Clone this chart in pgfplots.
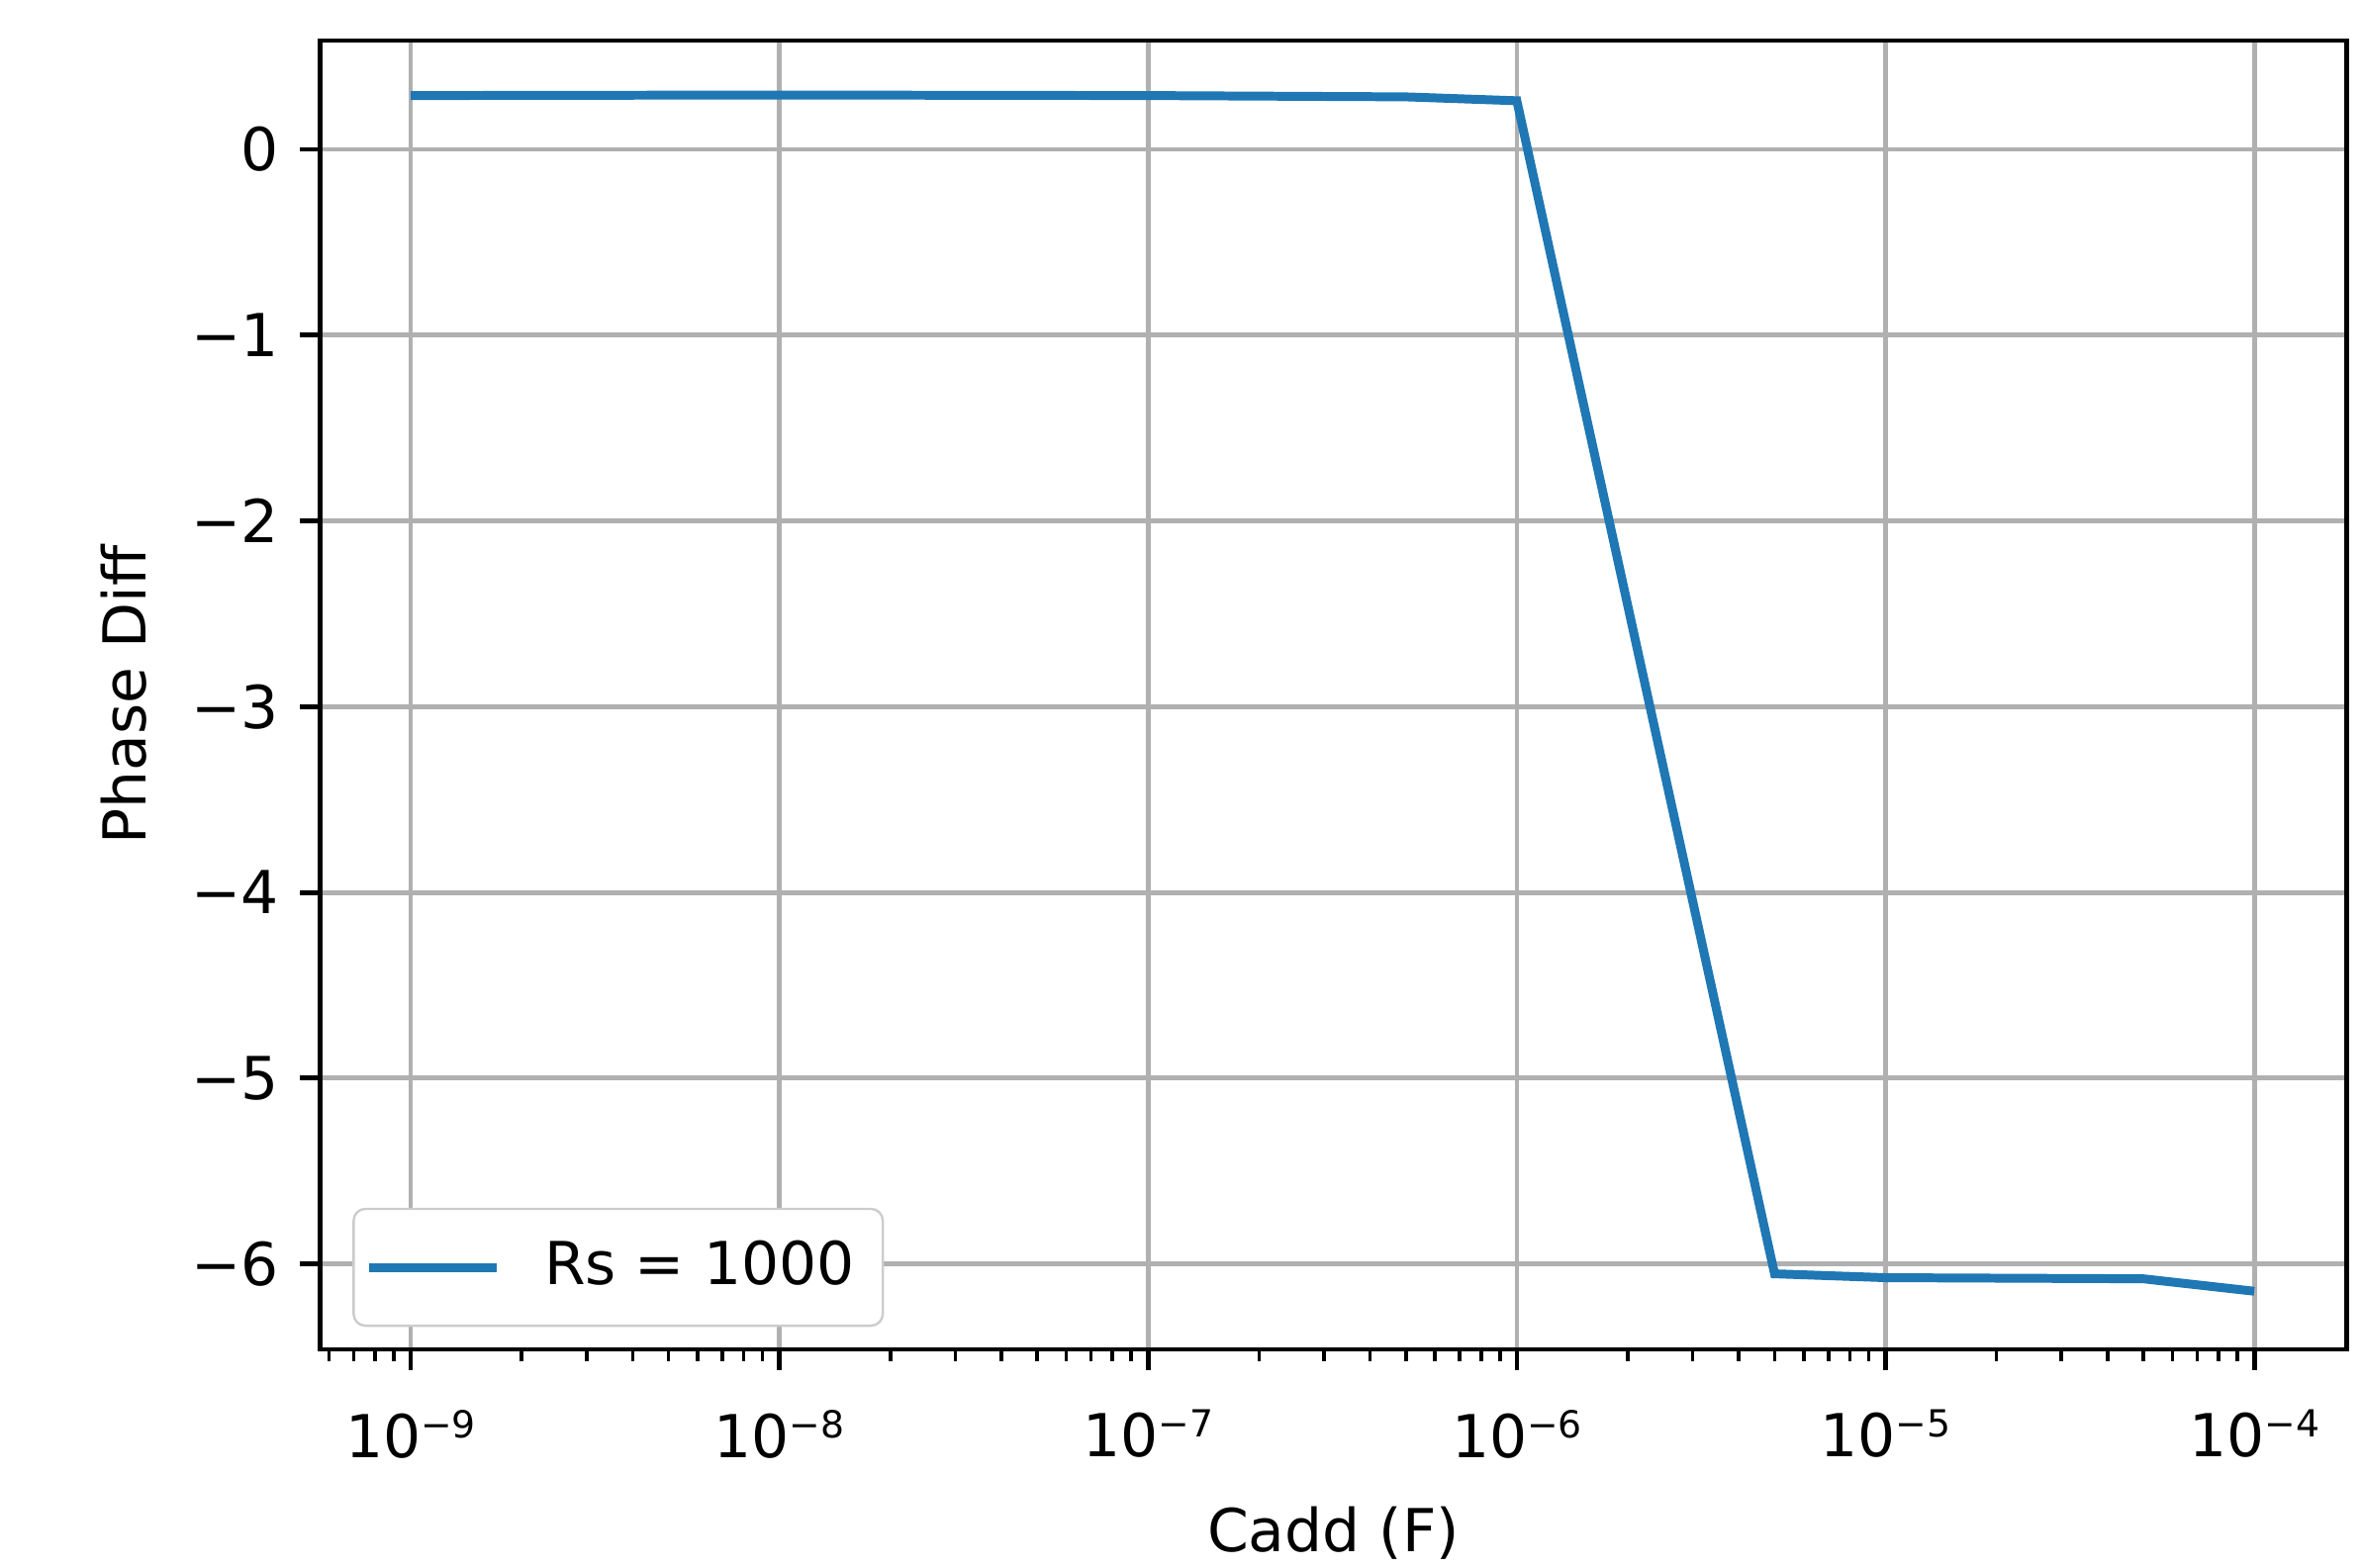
\documentclass[border=0pt]{standalone}
\usepackage{fontspec}
\setmainfont{DejaVu Sans}
\usepackage{pgfplots}
\pgfplotsset{compat=1.18}
\definecolor{mplblue}{HTML}{1F77B4}
\definecolor{gridgray}{HTML}{B0B0B0}
\definecolor{legedge}{HTML}{CCCCCC}
\newcommand\sups[1]{\raisebox{3.3pt}{\fontsize{6.3}{7}\selectfont #1}}
\begin{document}
\begin{tikzpicture}
\useasboundingbox (-54.1pt,-36.9pt) rectangle (344.8pt,227.85pt);
\begin{axis}[
  scale only axis, width=342pt, height=221pt,
  xmode=log, xmin=5.69e-10, xmax=1.778e-4,
  ymin=-6.46, ymax=0.586,
  xtick={1e-9,1e-8,1e-7,1e-6,1e-5,1e-4},
  xticklabels={10\sups{−9},10\sups{−8},10\sups{−7},10\sups{−6},10\sups{−5},10\sups{−4}},
  minor xtick={6e-10,7e-10,8e-10,9e-10,
    2e-9,3e-9,4e-9,5e-9,6e-9,7e-9,8e-9,9e-9,
    2e-8,3e-8,4e-8,5e-8,6e-8,7e-8,8e-8,9e-8,
    2e-7,3e-7,4e-7,5e-7,6e-7,7e-7,8e-7,9e-7,
    2e-6,3e-6,4e-6,5e-6,6e-6,7e-6,8e-6,9e-6,
    2e-5,3e-5,4e-5,5e-5,6e-5,7e-5,8e-5,9e-5},
  ytick={-6,-5,-4,-3,-2,-1,0},
  yticklabels={−6,−5,−4,−3,−2,−1,0},
  tick pos=left,
  tick align=outside,
  major tick length=3.5pt,
  minor tick length=2pt,
  major tick style={line width=0.8pt, black},
  minor tick style={line width=0.6pt, black},
  axis line style={line width=0.8pt, black},
  grid=major,
  major grid style={gridgray, line width=0.8pt},
  minor grid style={draw=none},
  tick label style={font=\fontsize{10}{12}\selectfont},
  xticklabel style={yshift=-3.2pt},
  xlabel={Cadd (F)},
  ylabel={Phase Diff},
  label style={font=\fontsize{10}{12}\selectfont},
  xlabel style={at={(axis description cs:0.5,-0.140)}, anchor=center},
  ylabel style={at={(axis description cs:-0.0971,0.5)}, anchor=center},
  legend cell align=left,
  legend image code/.code={\draw[#1] (0pt,0pt) -- (21.6pt,0pt);},
  legend style={at={(axis description cs:0,0)}, anchor=south west,
    xshift=5.4pt, yshift=3.8pt, draw=legedge, rounded corners=2pt,
    fill=white, inner xsep=1.8pt, inner ysep=3.4pt,
    font=\fontsize{10}{12}\selectfont,
    /tikz/every odd column/.append style={column sep=4.3pt},
    nodes={inner xsep=3pt}},
]
\addplot[mplblue, line width=1.5pt] coordinates {
  (1e-9,0.29) (1e-8,0.293) (1e-7,0.29) (5e-7,0.283) (1e-6,0.262)
  (5e-6,-6.053) (1e-5,-6.074) (5e-5,-6.08) (1e-4,-6.147)
};
\addlegendentry{Rs = 1000}
\end{axis}
\end{tikzpicture}
\end{document}
